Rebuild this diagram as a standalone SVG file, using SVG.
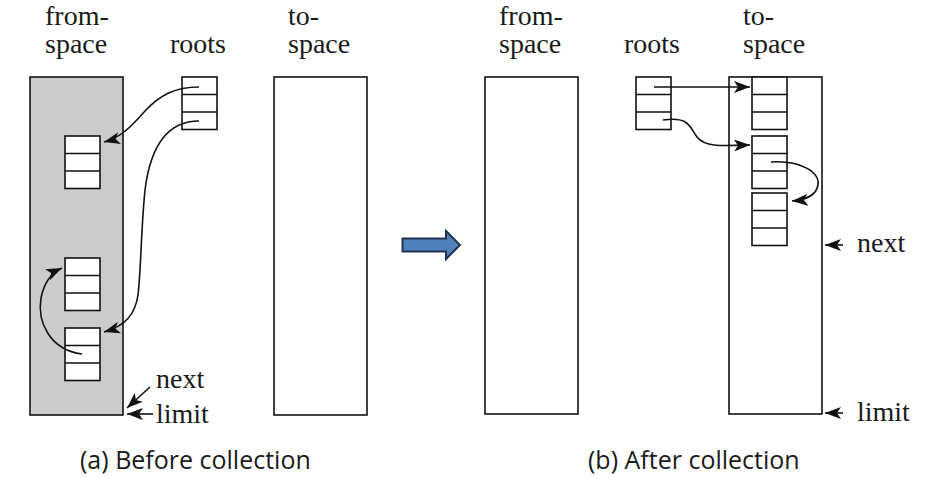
<svg xmlns="http://www.w3.org/2000/svg" width="934" height="479" viewBox="0 0 934 479">
<style>
.lbl{font-family:'Liberation Serif','DejaVu Serif',serif;font-size:28px;fill:#1a1a1a}
.cap{font-family:'Open Sans','Liberation Sans',sans-serif;font-size:25px;fill:#1a1a1a}
.box{fill:#fff;stroke:#111;stroke-width:1.6}
.space{stroke:#111;stroke-width:1.6}
.ln{fill:none;stroke:#111;stroke-width:1.5}
.arr{fill:none;stroke:#111;stroke-width:1.6;marker-end:url(#ah)}
</style>
<defs>
<marker id="ah" markerUnits="userSpaceOnUse" markerWidth="17" markerHeight="12" refX="16" refY="6" orient="auto">
<path d="M0,0 L16,6 L0,12 L4,6 Z" fill="#111"/>
</marker>
<g id="cell3">
<rect class="box" x="0" y="0" width="35" height="52.5"/>
<line class="ln" x1="0" y1="17.5" x2="35" y2="17.5"/>
<line class="ln" x1="0" y1="35" x2="35" y2="35"/>
</g>
</defs>
<rect width="934" height="479" fill="#fff"/>

<!-- (a) Before collection -->
<g id="a-from-space">
<rect class="space" x="30" y="77" width="93" height="338" fill="#cccccc"/>
<text class="lbl" font-family="Liberation Serif, serif" x="45" y="25">from-</text>
<text class="lbl" font-family="Liberation Serif, serif" x="45" y="53">space</text>
</g>
<g id="a-roots">
<use href="#cell3" x="182" y="77"/>
<text class="lbl" font-family="Liberation Serif, serif" x="170" y="53">roots</text>
</g>
<g id="a-to-space">
<rect class="space" x="274" y="77" width="93" height="338" fill="#fff"/>
<text class="lbl" font-family="Liberation Serif, serif" x="288" y="25">to-</text>
<text class="lbl" font-family="Liberation Serif, serif" x="288" y="53">space</text>
</g>
<g id="a-obj1"><use href="#cell3" x="65" y="136"/></g>
<g id="a-obj2"><use href="#cell3" x="65" y="258"/></g>
<g id="a-obj3"><use href="#cell3" x="65" y="328"/></g>
<g id="a-next"><text class="lbl" font-family="Liberation Serif, serif" x="156" y="388">next</text></g>
<g id="a-limit"><text class="lbl" font-family="Liberation Serif, serif" x="156" y="423">limit</text></g>
<g id="a-caption"><text class="cap" x="80" y="469">(a) Before collection</text></g>

<!-- transition arrow -->
<g id="transition">
<path d="M402.5,238.5 L446,238.5 L446,231 L460,245 L446,259 L446,251.5 L402.5,251.5 Z" fill="#4f81bd" stroke="#1f3350" stroke-width="2" stroke-linejoin="miter"/>
</g>

<!-- (b) After collection -->
<g id="b-from-space">
<rect class="space" x="485" y="77" width="93" height="337" fill="#fff"/>
<text class="lbl" font-family="Liberation Serif, serif" x="499" y="25">from-</text>
<text class="lbl" font-family="Liberation Serif, serif" x="499" y="53">space</text>
</g>
<g id="b-roots">
<use href="#cell3" x="636" y="77"/>
<text class="lbl" font-family="Liberation Serif, serif" x="624" y="53">roots</text>
</g>
<g id="b-to-space">
<rect class="space" x="729" y="77" width="93" height="337" fill="#fff"/>
<text class="lbl" font-family="Liberation Serif, serif" x="743" y="25">to-</text>
<text class="lbl" font-family="Liberation Serif, serif" x="743" y="53">space</text>
</g>
<g id="b-obj1"><use href="#cell3" x="752" y="77"/></g>
<g id="b-obj2"><use href="#cell3" x="752" y="136"/></g>
<g id="b-obj3"><use href="#cell3" x="752" y="193"/></g>
<g id="b-next"><text class="lbl" font-family="Liberation Serif, serif" x="857" y="252">next</text></g>
<g id="b-limit"><text class="lbl" font-family="Liberation Serif, serif" x="857" y="421">limit</text></g>
<g id="b-caption"><text class="cap" x="588" y="469">(b) After collection</text></g>

<g id="connectors">
<path class="arr" d="M199,87 C175,87 160,95 145,111 C131,127 120,138 104,142"/>
<path class="arr" d="M199,121 C165,121 150,150 145,190 C141,230 141,270 138,295 C135,315 125,326 104,332"/>
<path class="arr" d="M82,354 C50,350 37,322 41,298 C44,283 51,273 62,268"/>
<path class="arr" d="M150,387 L127,408"/>
<path class="arr" d="M153,414 L127,414"/>
<path class="arr" d="M654,87 L750,87"/>
<path class="arr" d="M663,120 C690,116 690,128 697,137 C705,147 720,146 750,145"/>
<path class="arr" d="M771,162 C800,160 820,172 818,185 C816,196 805,200 792,201"/>
<path class="arr" d="M843,245 L825,245"/>
<path class="arr" d="M843,413 L825,413"/>
</g>
</svg>
